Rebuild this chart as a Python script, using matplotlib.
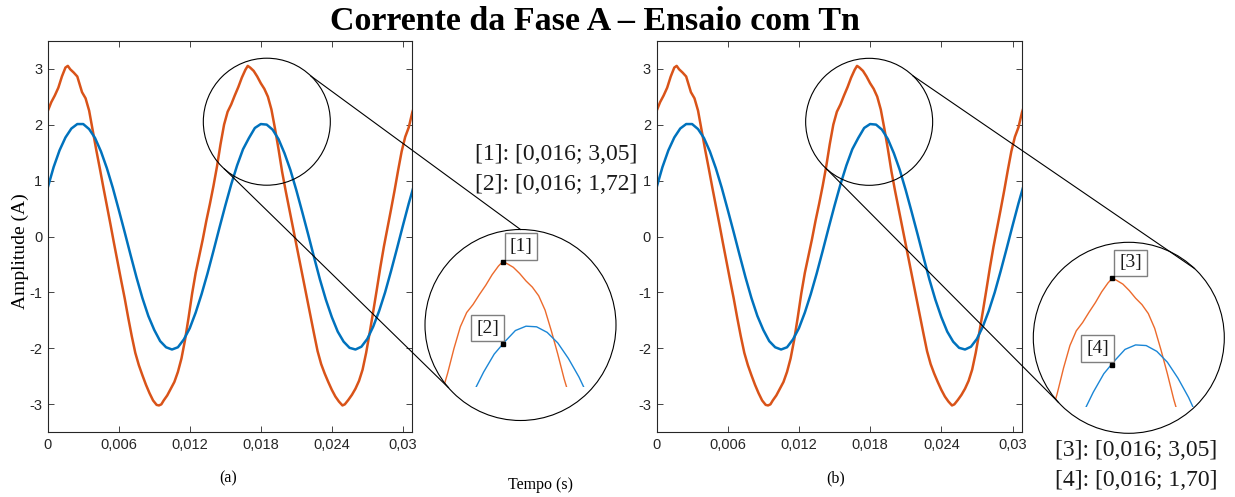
import numpy as np
import matplotlib
matplotlib.use("Agg")
import matplotlib.pyplot as plt
from matplotlib.patches import Ellipse
from matplotlib.lines import Line2D

plt.rcParams["axes.unicode_minus"] = False

# ----------- DATA -----------
# phase A current, distorted (orange) and reference (blue)
t_orange = [0.0000, 0.0003, 0.0006, 0.0009, 0.0012, 0.0015, 0.0017, 0.0019, 0.0022, 0.0025,
            0.0027, 0.0029, 0.0032, 0.0035, 0.0038, 0.0041, 0.0044, 0.0047, 0.0050, 0.0053,
            0.0056, 0.0059, 0.0062, 0.0065, 0.0068, 0.0071, 0.0074, 0.0077, 0.0080, 0.0083,
            0.0086, 0.0089, 0.0092, 0.0094, 0.0096, 0.0098, 0.0101, 0.0104, 0.0107, 0.0110,
            0.0113, 0.0116, 0.0119, 0.0122, 0.0125, 0.0128, 0.0131, 0.0134, 0.0137, 0.0140,
            0.0143, 0.0146, 0.0149, 0.0152, 0.0155, 0.0158, 0.0161, 0.0164, 0.0167, 0.0169,
            0.0171, 0.0174, 0.0177, 0.0180, 0.0183, 0.0186, 0.0189, 0.0192, 0.0195, 0.0198,
            0.0201, 0.0204, 0.0207, 0.0210, 0.0213, 0.0216, 0.0219, 0.0222, 0.0225, 0.0228,
            0.0231, 0.0234, 0.0237, 0.0240, 0.0243, 0.0246, 0.0249, 0.0251, 0.0254, 0.0257,
            0.0260, 0.0263, 0.0266, 0.0269, 0.0272, 0.0275, 0.0278, 0.0281, 0.0284, 0.0287,
            0.0290, 0.0293, 0.0296, 0.0299, 0.0302, 0.0305, 0.0308, 0.0310]
i_orange = [2.24, 2.40, 2.52, 2.66, 2.86, 3.02, 3.05, 2.99, 2.93, 2.86,
            2.72, 2.58, 2.47, 2.25, 1.90, 1.55, 1.22, 0.88, 0.55, 0.22,
            -0.12, -0.45, -0.78, -1.10, -1.45, -1.78, -2.08, -2.30, -2.48, -2.65,
            -2.80, -2.93, -3.01, -3.02, -3.00, -2.93, -2.84, -2.72, -2.60, -2.42,
            -2.18, -1.85, -1.45, -1.02, -0.65, -0.35, -0.05, 0.28, 0.58, 0.90,
            1.25, 1.65, 2.00, 2.23, 2.36, 2.52, 2.67, 2.84, 2.98, 3.05,
            3.02, 2.96, 2.86, 2.74, 2.64, 2.50, 2.27, 1.93, 1.56, 1.16,
            0.82, 0.50, 0.18, -0.14, -0.46, -0.78, -1.10, -1.42, -1.74, -2.05,
            -2.28, -2.45, -2.60, -2.74, -2.86, -2.95, -3.02, -3.00, -2.92, -2.83,
            -2.72, -2.58, -2.38, -2.08, -1.72, -1.34, -0.95, -0.55, -0.18, 0.15,
            0.48, 0.82, 1.18, 1.52, 1.78, 1.95, 2.22, 2.35]

t_blue = [0.0000, 0.0005, 0.0010, 0.0015, 0.0020, 0.0025, 0.0030, 0.0035, 0.0040, 0.0045,
          0.0050, 0.0055, 0.0060, 0.0065, 0.0070, 0.0075, 0.0080, 0.0085, 0.0090, 0.0095,
          0.0100, 0.0105, 0.0110, 0.0115, 0.0120, 0.0125, 0.0130, 0.0135, 0.0140, 0.0145,
          0.0150, 0.0155, 0.0160, 0.0165, 0.0170, 0.0175, 0.0180, 0.0185, 0.0190, 0.0195,
          0.0200, 0.0205, 0.0210, 0.0215, 0.0220, 0.0225, 0.0230, 0.0235, 0.0240, 0.0245,
          0.0250, 0.0255, 0.0260, 0.0265, 0.0270, 0.0275, 0.0280, 0.0285, 0.0290, 0.0295,
          0.0300, 0.0305, 0.0310]
i_blue = [0.87, 1.24, 1.54, 1.77, 1.93, 2.01, 2.01, 1.92, 1.76, 1.52,
          1.22, 0.87, 0.48, 0.08, -0.33, -0.73, -1.10, -1.42, -1.67, -1.87,
          -1.98, -2.02, -1.98, -1.84, -1.64, -1.36, -1.03, -0.66, -0.26, 0.15,
          0.55, 0.93, 1.27, 1.56, 1.76, 1.94, 2.01, 2.00, 1.91, 1.74,
          1.49, 1.19, 0.83, 0.44, 0.04, -0.37, -0.77, -1.13, -1.44, -1.70,
          -1.88, -1.99, -2.02, -1.97, -1.83, -1.61, -1.33, -1.00, -0.62, -0.22,
          0.19, 0.59, 0.96]

x_ticks = [0, 0.006, 0.012, 0.018, 0.024, 0.03]
x_tick_labels = ["0", "0,006", "0,012", "0,018", "0,024", "0,03"]
y_ticks = [-3, -2, -1, 0, 1, 2, 3]

# data tips: time and values (orange, blue) for each panel
tip_time = 0.0169
tip_values_a = [3.05, 1.72]
tip_values_b = [3.05, 1.70]
tip_ids_a = ["[1]", "[2]"]
tip_ids_b = ["[3]", "[4]"]
panel_labels = ["(a)", "(b)"]

ORANGE = "#D95319"
BLUE = "#0072BD"
W, H = 1235, 497


def fx(px):
    return px / W


def fy(py):
    return 1 - py / H


fig = plt.figure(figsize=(W / 100, H / 100), dpi=100)

# main axes (pixel boxes: left, top, right, bottom)
main_boxes = [(47.7, 40.7, 412.3, 432.3), (656.5, 40.7, 1022.0, 432.3)]
# lens centres (data) and inset circles (pixels)
lens_centres = [(0.01851, 2.052), (0.01792, 2.05)]
lens_r = 63.5
inset_circles = [(520.5, 325.0), (1128.8, 337.8)]
inset_r = 95.5
# inset axes: left, top, bottom px; lower current limit; px per ampere
inset_boxes = [(425.0, 230.0, 386.7), (1034.6, 242.0, 407.0)]
inset_ybottom = [1.034, 1.04]
inset_sy = [62.0, 64.0]
inset_xlim = (0.013233, 0.022248)
inset_sx = 21186.0
# connector angles (deg, screen) on lens and inset circle
connectors = [[(46, 90), (228, 221)], [(46.6, 46.5), (227.5, 222.6)]]

for k in range(2):
    l, t, r, b = main_boxes[k]
    ax = fig.add_axes([fx(l), fy(b), (r - l) / W, (b - t) / H])
    ax.plot(t_orange, i_orange, color=ORANGE, lw=1.8)
    ax.plot(t_blue, i_blue, color=BLUE, lw=1.8)
    ax.set_xlim(0, 0.0308)
    ax.set_ylim(-3.5, 3.5)
    ax.set_xticks(x_ticks)
    ax.set_xticklabels(x_tick_labels)
    ax.set_yticks(y_ticks)
    ax.tick_params(direction="in", length=4, width=0.6, top=True, right=True,
                   labelsize=10.5, colors="#262626", pad=4)
    for lab in ax.get_xticklabels() + ax.get_yticklabels():
        lab.set_fontfamily("Liberation Sans")
    for s in ax.spines.values():
        s.set_linewidth(0.8)
        s.set_color("#262626")

    # lens circle on the main axes
    cx, cy = ax.transData.transform(lens_centres[k])
    fcx, fcy = fig.transFigure.inverted().transform((cx, cy))
    lens = Ellipse((fcx, fcy), 2 * lens_r / W, 2 * lens_r / H, transform=fig.transFigure,
                   fill=False, ec="black", lw=0.8, zorder=5)
    fig.add_artist(lens)
    lens_px = (fcx * W, (1 - fcy) * H)

    # magnified circle
    icx, icy = inset_circles[k]
    circ = Ellipse((fx(icx), fy(icy)), 2 * inset_r / W, 2 * inset_r / H, transform=fig.transFigure,
                   fill=False, ec="black", lw=0.8, zorder=5)
    fig.add_artist(circ)

    for a_lens, a_ins in connectors[k]:
        x0 = lens_px[0] + lens_r * np.cos(np.radians(a_lens))
        y0 = lens_px[1] - lens_r * np.sin(np.radians(a_lens))
        x1 = icx + inset_r * np.cos(np.radians(a_ins))
        y1 = icy - inset_r * np.sin(np.radians(a_ins))
        fig.add_artist(Line2D([fx(x0), fx(x1)], [fy(y0), fy(y1)], transform=fig.transFigure,
                              color="black", lw=0.8, zorder=5))

    # zoomed curves
    il, itop, ib = inset_boxes[k]
    iw = (inset_xlim[1] - inset_xlim[0]) * inset_sx
    ih = ib - itop
    axi = fig.add_axes([fx(il), fy(ib), iw / W, ih / H])
    axi.set_axis_off()
    axi.set_xlim(*inset_xlim)
    axi.set_ylim(inset_ybottom[k], inset_ybottom[k] + ih / inset_sy[k])
    clip = Ellipse((fx(icx), fy(icy)), 2 * inset_r / W, 2 * inset_r / H, transform=fig.transFigure)
    lo, = axi.plot(t_orange, i_orange, color="#EC6A2C", lw=1.0)
    lb, = axi.plot(t_blue, i_blue, color="#1A86D6", lw=1.0)
    lo.set_clip_path(clip)
    lb.set_clip_path(clip)

    vals = tip_values_a if k == 0 else tip_values_b
    ids = tip_ids_a if k == 0 else tip_ids_b
    box = dict(boxstyle="square,pad=0.25", fc="white", ec="#7f7f7f", lw=1.0)
    axi.annotate(ids[0], xy=(tip_time, vals[0]), xytext=(5.0, 5.0), textcoords="offset points",
                 ha="left", va="bottom", fontsize=14, family="Liberation Serif",
                 color="#1a1a1a", bbox=box, annotation_clip=False)
    axi.annotate(ids[1], xy=(tip_time, vals[1]), xytext=(-2.5, 5.5), textcoords="offset points",
                 ha="right", va="bottom", fontsize=14, family="Liberation Serif",
                 color="#1a1a1a", bbox=box, annotation_clip=False)
    axi.plot([tip_time, tip_time], vals, ls="none", marker="s", ms=3.5, color="black",
             clip_on=False, zorder=6)

    # data tip readouts
    tx, ty = [(475, 155), (1055, 451)][k]
    for j in range(2):
        v = f"{vals[j]:.2f}".replace(".", ",")
        tt = f"{int(tip_time * 1000) / 1000:.3f}".replace(".", ",")
        fig.text(fx(tx), fy(ty + 29 * j), f"{ids[j]}: [{tt}; {v}]", fontsize=17,
                 family="Liberation Serif", ha="left", va="center", color="#1a1a1a")

    fig.text(fx([228, 836][k]), fy(478), panel_labels[k], fontsize=11.5,
             family="Liberation Serif", ha="center", va="center")

fig.text(fx(541), fy(485), "Tempo (s)", fontsize=11.5, family="Liberation Serif",
         ha="center", va="center")
fig.text(fx(20.7), fy(251), "Amplitude (A)", fontsize=14, family="Liberation Serif",
         ha="center", va="center", rotation=90)
fig.text(fx(595), fy(22), "Corrente da Fase A \u2013 Ensaio com Tn", fontsize=24.5,
         family="Liberation Serif", weight="bold", ha="center", va="center")

fig.savefig("out.png", dpi=100)
